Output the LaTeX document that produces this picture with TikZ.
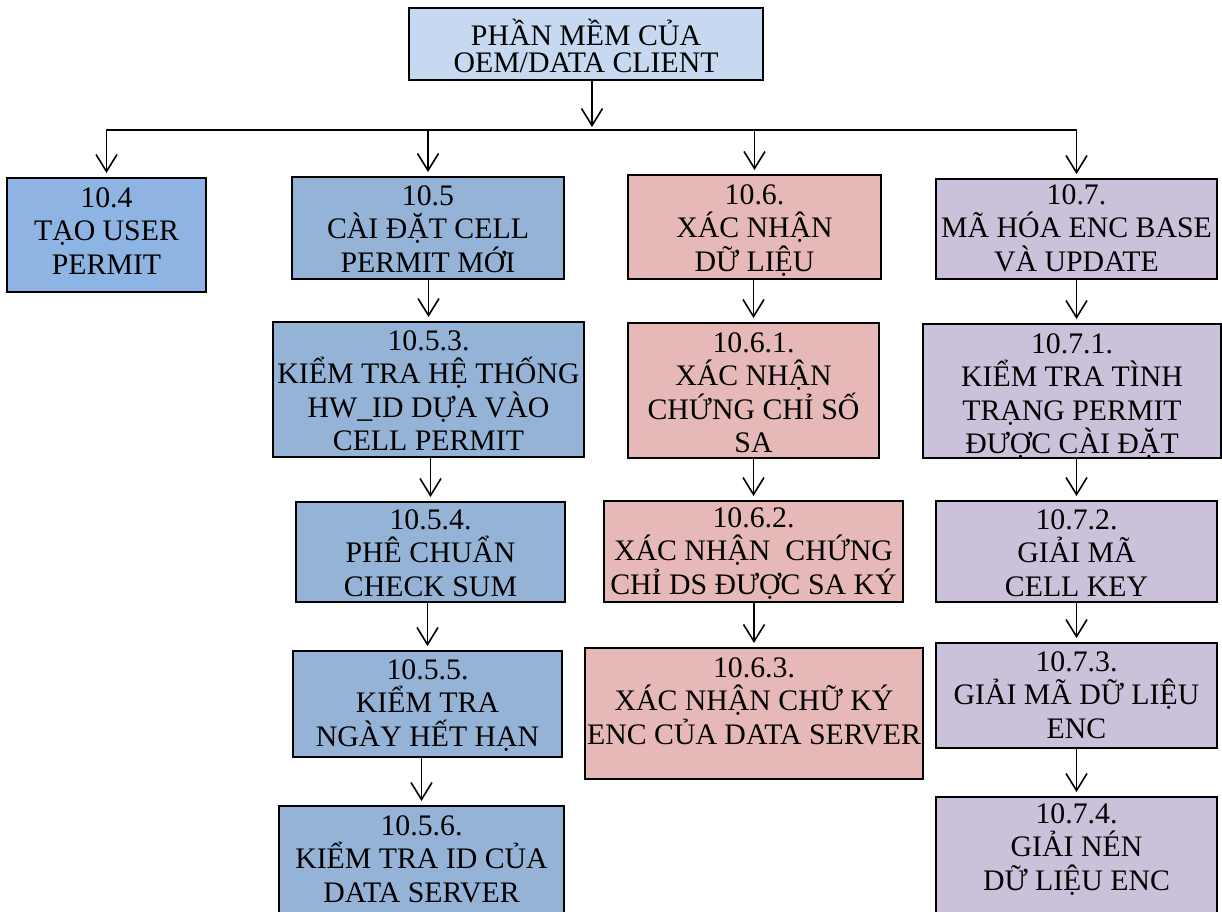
\documentclass[tikz,border=0pt]{standalone}
\usepackage{fontspec}
\setmainfont{Liberation Serif}
\usetikzlibrary{arrows.meta}
\definecolor{topblue}{HTML}{C6D9F1}
\definecolor{blueA}{HTML}{8DB4E2}
\definecolor{blueB}{HTML}{95B3D7}
\definecolor{pinkC}{HTML}{E6B9B8}
\definecolor{lavD}{HTML}{CCC1DA}
% name, style, left, top, right, bottom, first baseline offset, text
\newcommand\mkbox[8]{%
  \node[box,#2,minimum width={#5-#3},minimum height={#6-#4}] (#1) at ({(#3+#5)/2},{(#4+#6)/2})
   {\parbox[c][\dimexpr #6pt-#4pt\relax][t]{\dimexpr #5pt-#3pt-4pt\relax}{\centering\rule{0pt}{#7pt}#8\par}};}
\begin{document}
\begin{tikzpicture}[x=1pt,y=-1pt,
  every node/.style={font=\fontsize{29.8}{33.5}\selectfont},
  box/.style={draw=black, line width=1.6pt, inner sep=0pt, outer sep=0pt},
  topbox/.style={fill=topblue, font=\fontsize{29.8}{27.5}\selectfont},
  colA/.style={fill=blueA},
  colB/.style={fill=blueB},
  colC/.style={fill=pinkC},
  colD/.style={fill=lavD},
  arr/.style={line width=1.6pt, -{Straight Barb[length=17pt,width=21pt]}, shorten >=5pt},
  busline/.style={line width=1.6pt, {Straight Barb[length=17pt,width=21pt]}-{Straight Barb[length=17pt,width=21pt]}, shorten >=5pt, shorten <=5pt}]
\useasboundingbox (0,0) rectangle (1222,911);
\fill[white] (0,0) rectangle (1222,911);

\mkbox{top}{topbox}{409}{8}{763}{80}{37}{PHẦN MỀM CỦA\\OEM/DATA CLIENT}

\mkbox{n104}{colA}{7}{178}{206}{292}{29}{10.4\\TẠO USER\\PERMIT}

\mkbox{n105}{colB}{292}{177}{564}{279}{28}{10.5\\CÀI ĐẶT CELL\\PERMIT MỚI}
\mkbox{n1053}{colB}{273}{322}{584}{457}{28}{10.5.3.\\KIỂM TRA HỆ THỐNG\\HW\_ID DỰA VÀO\\CELL PERMIT}
\mkbox{n1054}{colB}{296}{502}{565}{602}{27}{10.5.4.\\PHÊ CHUẨN\\CHECK SUM}
\mkbox{n1055}{colB}{293}{651}{562}{757}{28}{10.5.5.\\KIỂM TRA\\NGÀY HẾT HẠN}
\mkbox{n1056}{colB}{279}{806}{564}{930}{29}{10.5.6.\\KIỂM TRA ID CỦA\\DATA SERVER}

\mkbox{n106}{colC}{628}{175}{881}{279}{29}{10.6.\\XÁC NHẬN\\DỮ LIỆU}
\mkbox{n1061}{colC}{628}{323}{879}{458}{29}{10.6.1.\\XÁC NHẬN\\CHỨNG CHỈ SỐ\\SA}
\mkbox{n1062}{colC}{604}{501}{903}{602}{26}{10.6.2.\\XÁC NHẬN\ \ CHỨNG\\CHỈ DS ĐƯỢC SA KÝ}
\mkbox{n1063}{colC}{585}{648}{923}{779}{29}{10.6.3.\\XÁC NHẬN CHỮ KÝ\\ENC CỦA DATA SERVER}

\mkbox{n107}{colD}{936}{179}{1217}{279}{25}{10.7.\\MÃ HÓA ENC BASE\\VÀ UPDATE}
\mkbox{n1071}{colD}{923}{324}{1221}{458}{29}{10.7.1.\\KIỂM TRA TÌNH\\TRẠNG PERMIT\\ĐƯỢC CÀI ĐẶT}
\mkbox{n1072}{colD}{936}{501}{1217}{602}{28}{10.7.2.\\GIẢI MÃ\\CELL KEY}
\mkbox{n1073}{colD}{936}{643}{1217}{748}{28}{10.7.3.\\GIẢI MÃ DỮ LIỆU\\ENC}
\mkbox{n1074}{colD}{936}{797}{1217}{930}{26}{10.7.4.\\GIẢI NÉN\\DỮ LIỆU ENC}

% bus
\coordinate (bus) at (0,130);
\coordinate (topx) at (592,0);
\draw[arr, shorten >=3pt] (top.south -| topx) -- (bus -| topx);
\draw[busline] (n104.north) -- (n104.north |- bus) -- (n107.north |- bus) -- (n107.north);
\draw[arr] (n105.north |- bus) -- (n105.north);
\draw[arr] (n106.north |- bus) -- (n106.north);

% column 10.5
\draw[arr] (n105.south -| n1053.north) -- (n1053.north);
\draw[arr] (n1053.south -| n1054.north) -- (n1054.north);
\draw[arr] (n1054.south -| n1055.north) -- (n1055.north);
\draw[arr] (n1055.south -| n1056.north) -- (n1056.north);
% column 10.6
\draw[arr] (n106.south -| n1061.north) -- (n1061.north);
\draw[arr] (n1061.south -| n1062.north) -- (n1062.north);
\draw[arr] (n1062.south -| n1063.north) -- (n1063.north);
% column 10.7
\draw[arr] (n107.south) -- (n107.south |- n1071.north);
\draw[arr] (n1071.south -| n1072.north) -- (n1072.north);
\draw[arr] (n1072.south -| n1073.north) -- (n1073.north);
\draw[arr] (n1073.south -| n1074.north) -- (n1074.north);
\end{tikzpicture}
\end{document}
